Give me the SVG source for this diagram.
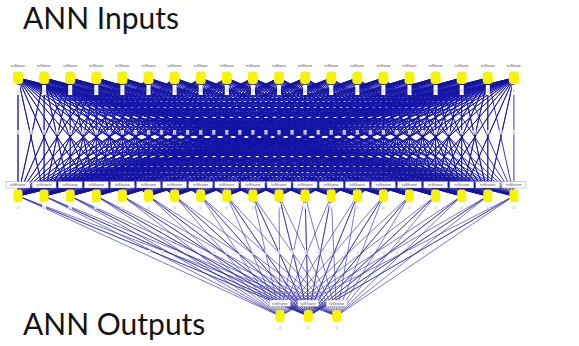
<svg xmlns="http://www.w3.org/2000/svg" xmlns:xlink="http://www.w3.org/1999/xlink" width="579" height="346" viewBox="0 0 579 346">
  <style>
    .ln { fill: none; stroke: #1414a6; stroke-width: 1; stroke-opacity: 0.85; stroke-linejoin: round; }
    .lo { fill: none; stroke: #2a2aa8; stroke-width: 0.9; stroke-opacity: 0.7; stroke-linejoin: round; }
    .nd { fill: #f8f400; }
    .st { fill: #ffffff; }
    .bx { fill: #ffffff; stroke: #8a8a8a; stroke-width: 0.4; }
    .lb { font-family: "Liberation Sans", Arial, sans-serif; font-size: 4.2px; fill: #555555; text-anchor: middle; }
    .d { font-family: "Liberation Sans", Arial, sans-serif; font-size: 4px; fill: #9a9a9a; text-anchor: middle; }
    .title { font-family: Lato, "Liberation Sans", sans-serif; font-size: 30px; fill: #141414; }
  </style>
  <defs>
    <!-- small weight tag placed on link midpoints -->
    <g id="tag">
      <rect x="-1.6" y="-3" width="3.2" height="4.6" fill="#ffffff" opacity="0.8"/>
      <text class="d" y="1">0</text>
    </g>
  </defs>

  <rect width="579" height="346" fill="#ffffff"/>

  <text class="title" x="23" y="28.5">ANN Inputs</text>
  <text class="title" x="23" y="335">ANN Outputs</text>

  <!-- links: every input to every hidden unit, every hidden unit to every output -->
  <g id="connectors">
    <g id="links-in-hidden">
      <path class="ln" d="M18 78L18 196 18 78 44.1 196 18 78 70.2 196 18 78 96.3 196 18 78 122.4 196 18 78 148.5 196 18 78 174.6 196 18 78 200.7 196 18 78 226.8 196 18 78 252.9 196 18 78 279 196 18 78 305.1 196 18 78 331.2 196 18 78 357.3 196 18 78 383.4 196 18 78 409.5 196 18 78 435.6 196 18 78 461.7 196 18 78 487.8 196 18 78 513.9 196"/>
      <path class="ln" d="M44.1 78L18 196 44.1 78 44.1 196 44.1 78 70.2 196 44.1 78 96.3 196 44.1 78 122.4 196 44.1 78 148.5 196 44.1 78 174.6 196 44.1 78 200.7 196 44.1 78 226.8 196 44.1 78 252.9 196 44.1 78 279 196 44.1 78 305.1 196 44.1 78 331.2 196 44.1 78 357.3 196 44.1 78 383.4 196 44.1 78 409.5 196 44.1 78 435.6 196 44.1 78 461.7 196 44.1 78 487.8 196 44.1 78 513.9 196"/>
      <path class="ln" d="M70.2 78L18 196 70.2 78 44.1 196 70.2 78 70.2 196 70.2 78 96.3 196 70.2 78 122.4 196 70.2 78 148.5 196 70.2 78 174.6 196 70.2 78 200.7 196 70.2 78 226.8 196 70.2 78 252.9 196 70.2 78 279 196 70.2 78 305.1 196 70.2 78 331.2 196 70.2 78 357.3 196 70.2 78 383.4 196 70.2 78 409.5 196 70.2 78 435.6 196 70.2 78 461.7 196 70.2 78 487.8 196 70.2 78 513.9 196"/>
      <path class="ln" d="M96.3 78L18 196 96.3 78 44.1 196 96.3 78 70.2 196 96.3 78 96.3 196 96.3 78 122.4 196 96.3 78 148.5 196 96.3 78 174.6 196 96.3 78 200.7 196 96.3 78 226.8 196 96.3 78 252.9 196 96.3 78 279 196 96.3 78 305.1 196 96.3 78 331.2 196 96.3 78 357.3 196 96.3 78 383.4 196 96.3 78 409.5 196 96.3 78 435.6 196 96.3 78 461.7 196 96.3 78 487.8 196 96.3 78 513.9 196"/>
      <path class="ln" d="M122.4 78L18 196 122.4 78 44.1 196 122.4 78 70.2 196 122.4 78 96.3 196 122.4 78 122.4 196 122.4 78 148.5 196 122.4 78 174.6 196 122.4 78 200.7 196 122.4 78 226.8 196 122.4 78 252.9 196 122.4 78 279 196 122.4 78 305.1 196 122.4 78 331.2 196 122.4 78 357.3 196 122.4 78 383.4 196 122.4 78 409.5 196 122.4 78 435.6 196 122.4 78 461.7 196 122.4 78 487.8 196 122.4 78 513.9 196"/>
      <path class="ln" d="M148.5 78L18 196 148.5 78 44.1 196 148.5 78 70.2 196 148.5 78 96.3 196 148.5 78 122.4 196 148.5 78 148.5 196 148.5 78 174.6 196 148.5 78 200.7 196 148.5 78 226.8 196 148.5 78 252.9 196 148.5 78 279 196 148.5 78 305.1 196 148.5 78 331.2 196 148.5 78 357.3 196 148.5 78 383.4 196 148.5 78 409.5 196 148.5 78 435.6 196 148.5 78 461.7 196 148.5 78 487.8 196 148.5 78 513.9 196"/>
      <path class="ln" d="M174.6 78L18 196 174.6 78 44.1 196 174.6 78 70.2 196 174.6 78 96.3 196 174.6 78 122.4 196 174.6 78 148.5 196 174.6 78 174.6 196 174.6 78 200.7 196 174.6 78 226.8 196 174.6 78 252.9 196 174.6 78 279 196 174.6 78 305.1 196 174.6 78 331.2 196 174.6 78 357.3 196 174.6 78 383.4 196 174.6 78 409.5 196 174.6 78 435.6 196 174.6 78 461.7 196 174.6 78 487.8 196 174.6 78 513.9 196"/>
      <path class="ln" d="M200.7 78L18 196 200.7 78 44.1 196 200.7 78 70.2 196 200.7 78 96.3 196 200.7 78 122.4 196 200.7 78 148.5 196 200.7 78 174.6 196 200.7 78 200.7 196 200.7 78 226.8 196 200.7 78 252.9 196 200.7 78 279 196 200.7 78 305.1 196 200.7 78 331.2 196 200.7 78 357.3 196 200.7 78 383.4 196 200.7 78 409.5 196 200.7 78 435.6 196 200.7 78 461.7 196 200.7 78 487.8 196 200.7 78 513.9 196"/>
      <path class="ln" d="M226.8 78L18 196 226.8 78 44.1 196 226.8 78 70.2 196 226.8 78 96.3 196 226.8 78 122.4 196 226.8 78 148.5 196 226.8 78 174.6 196 226.8 78 200.7 196 226.8 78 226.8 196 226.8 78 252.9 196 226.8 78 279 196 226.8 78 305.1 196 226.8 78 331.2 196 226.8 78 357.3 196 226.8 78 383.4 196 226.8 78 409.5 196 226.8 78 435.6 196 226.8 78 461.7 196 226.8 78 487.8 196 226.8 78 513.9 196"/>
      <path class="ln" d="M252.9 78L18 196 252.9 78 44.1 196 252.9 78 70.2 196 252.9 78 96.3 196 252.9 78 122.4 196 252.9 78 148.5 196 252.9 78 174.6 196 252.9 78 200.7 196 252.9 78 226.8 196 252.9 78 252.9 196 252.9 78 279 196 252.9 78 305.1 196 252.9 78 331.2 196 252.9 78 357.3 196 252.9 78 383.4 196 252.9 78 409.5 196 252.9 78 435.6 196 252.9 78 461.7 196 252.9 78 487.8 196 252.9 78 513.9 196"/>
      <path class="ln" d="M279 78L18 196 279 78 44.1 196 279 78 70.2 196 279 78 96.3 196 279 78 122.4 196 279 78 148.5 196 279 78 174.6 196 279 78 200.7 196 279 78 226.8 196 279 78 252.9 196 279 78 279 196 279 78 305.1 196 279 78 331.2 196 279 78 357.3 196 279 78 383.4 196 279 78 409.5 196 279 78 435.6 196 279 78 461.7 196 279 78 487.8 196 279 78 513.9 196"/>
      <path class="ln" d="M305.1 78L18 196 305.1 78 44.1 196 305.1 78 70.2 196 305.1 78 96.3 196 305.1 78 122.4 196 305.1 78 148.5 196 305.1 78 174.6 196 305.1 78 200.7 196 305.1 78 226.8 196 305.1 78 252.9 196 305.1 78 279 196 305.1 78 305.1 196 305.1 78 331.2 196 305.1 78 357.3 196 305.1 78 383.4 196 305.1 78 409.5 196 305.1 78 435.6 196 305.1 78 461.7 196 305.1 78 487.8 196 305.1 78 513.9 196"/>
      <path class="ln" d="M331.2 78L18 196 331.2 78 44.1 196 331.2 78 70.2 196 331.2 78 96.3 196 331.2 78 122.4 196 331.2 78 148.5 196 331.2 78 174.6 196 331.2 78 200.7 196 331.2 78 226.8 196 331.2 78 252.9 196 331.2 78 279 196 331.2 78 305.1 196 331.2 78 331.2 196 331.2 78 357.3 196 331.2 78 383.4 196 331.2 78 409.5 196 331.2 78 435.6 196 331.2 78 461.7 196 331.2 78 487.8 196 331.2 78 513.9 196"/>
      <path class="ln" d="M357.3 78L18 196 357.3 78 44.1 196 357.3 78 70.2 196 357.3 78 96.3 196 357.3 78 122.4 196 357.3 78 148.5 196 357.3 78 174.6 196 357.3 78 200.7 196 357.3 78 226.8 196 357.3 78 252.9 196 357.3 78 279 196 357.3 78 305.1 196 357.3 78 331.2 196 357.3 78 357.3 196 357.3 78 383.4 196 357.3 78 409.5 196 357.3 78 435.6 196 357.3 78 461.7 196 357.3 78 487.8 196 357.3 78 513.9 196"/>
      <path class="ln" d="M383.4 78L18 196 383.4 78 44.1 196 383.4 78 70.2 196 383.4 78 96.3 196 383.4 78 122.4 196 383.4 78 148.5 196 383.4 78 174.6 196 383.4 78 200.7 196 383.4 78 226.8 196 383.4 78 252.9 196 383.4 78 279 196 383.4 78 305.1 196 383.4 78 331.2 196 383.4 78 357.3 196 383.4 78 383.4 196 383.4 78 409.5 196 383.4 78 435.6 196 383.4 78 461.7 196 383.4 78 487.8 196 383.4 78 513.9 196"/>
      <path class="ln" d="M409.5 78L18 196 409.5 78 44.1 196 409.5 78 70.2 196 409.5 78 96.3 196 409.5 78 122.4 196 409.5 78 148.5 196 409.5 78 174.6 196 409.5 78 200.7 196 409.5 78 226.8 196 409.5 78 252.9 196 409.5 78 279 196 409.5 78 305.1 196 409.5 78 331.2 196 409.5 78 357.3 196 409.5 78 383.4 196 409.5 78 409.5 196 409.5 78 435.6 196 409.5 78 461.7 196 409.5 78 487.8 196 409.5 78 513.9 196"/>
      <path class="ln" d="M435.6 78L18 196 435.6 78 44.1 196 435.6 78 70.2 196 435.6 78 96.3 196 435.6 78 122.4 196 435.6 78 148.5 196 435.6 78 174.6 196 435.6 78 200.7 196 435.6 78 226.8 196 435.6 78 252.9 196 435.6 78 279 196 435.6 78 305.1 196 435.6 78 331.2 196 435.6 78 357.3 196 435.6 78 383.4 196 435.6 78 409.5 196 435.6 78 435.6 196 435.6 78 461.7 196 435.6 78 487.8 196 435.6 78 513.9 196"/>
      <path class="ln" d="M461.7 78L18 196 461.7 78 44.1 196 461.7 78 70.2 196 461.7 78 96.3 196 461.7 78 122.4 196 461.7 78 148.5 196 461.7 78 174.6 196 461.7 78 200.7 196 461.7 78 226.8 196 461.7 78 252.9 196 461.7 78 279 196 461.7 78 305.1 196 461.7 78 331.2 196 461.7 78 357.3 196 461.7 78 383.4 196 461.7 78 409.5 196 461.7 78 435.6 196 461.7 78 461.7 196 461.7 78 487.8 196 461.7 78 513.9 196"/>
      <path class="ln" d="M487.8 78L18 196 487.8 78 44.1 196 487.8 78 70.2 196 487.8 78 96.3 196 487.8 78 122.4 196 487.8 78 148.5 196 487.8 78 174.6 196 487.8 78 200.7 196 487.8 78 226.8 196 487.8 78 252.9 196 487.8 78 279 196 487.8 78 305.1 196 487.8 78 331.2 196 487.8 78 357.3 196 487.8 78 383.4 196 487.8 78 409.5 196 487.8 78 435.6 196 487.8 78 461.7 196 487.8 78 487.8 196 487.8 78 513.9 196"/>
      <path class="ln" d="M513.9 78L18 196 513.9 78 44.1 196 513.9 78 70.2 196 513.9 78 96.3 196 513.9 78 122.4 196 513.9 78 148.5 196 513.9 78 174.6 196 513.9 78 200.7 196 513.9 78 226.8 196 513.9 78 252.9 196 513.9 78 279 196 513.9 78 305.1 196 513.9 78 331.2 196 513.9 78 357.3 196 513.9 78 383.4 196 513.9 78 409.5 196 513.9 78 435.6 196 513.9 78 461.7 196 513.9 78 487.8 196 513.9 78 513.9 196"/>
    </g>
    <g id="links-hidden-out">
      <path class="lo" d="M280 316L18 196 308.3 316 18 196 336.7 316"/>
      <path class="lo" d="M280 316L44.1 196 308.3 316 44.1 196 336.7 316"/>
      <path class="lo" d="M280 316L70.2 196 308.3 316 70.2 196 336.7 316"/>
      <path class="lo" d="M280 316L96.3 196 308.3 316 96.3 196 336.7 316"/>
      <path class="lo" d="M280 316L122.4 196 308.3 316 122.4 196 336.7 316"/>
      <path class="lo" d="M280 316L148.5 196 308.3 316 148.5 196 336.7 316"/>
      <path class="lo" d="M280 316L174.6 196 308.3 316 174.6 196 336.7 316"/>
      <path class="lo" d="M280 316L200.7 196 308.3 316 200.7 196 336.7 316"/>
      <path class="lo" d="M280 316L226.8 196 308.3 316 226.8 196 336.7 316"/>
      <path class="lo" d="M280 316L252.9 196 308.3 316 252.9 196 336.7 316"/>
      <path class="lo" d="M280 316L279 196 308.3 316 279 196 336.7 316"/>
      <path class="lo" d="M280 316L305.1 196 308.3 316 305.1 196 336.7 316"/>
      <path class="lo" d="M280 316L331.2 196 308.3 316 331.2 196 336.7 316"/>
      <path class="lo" d="M280 316L357.3 196 308.3 316 357.3 196 336.7 316"/>
      <path class="lo" d="M280 316L383.4 196 308.3 316 383.4 196 336.7 316"/>
      <path class="lo" d="M280 316L409.5 196 308.3 316 409.5 196 336.7 316"/>
      <path class="lo" d="M280 316L435.6 196 308.3 316 435.6 196 336.7 316"/>
      <path class="lo" d="M280 316L461.7 196 308.3 316 461.7 196 336.7 316"/>
      <path class="lo" d="M280 316L487.8 196 308.3 316 487.8 196 336.7 316"/>
      <path class="lo" d="M280 316L513.9 196 308.3 316 513.9 196 336.7 316"/>
    </g>
    <!-- weight tags at link midpoints -->
    <g id="link-tags">
      <use xlink:href="#tag" x="18" y="133"/><use xlink:href="#tag" x="31.05" y="133"/><use xlink:href="#tag" x="44.1" y="133"/><use xlink:href="#tag" x="57.15" y="133"/>
      <use xlink:href="#tag" x="70.2" y="133"/><use xlink:href="#tag" x="83.25" y="133"/><use xlink:href="#tag" x="96.3" y="133"/><use xlink:href="#tag" x="109.35" y="133"/>
      <use xlink:href="#tag" x="122.4" y="133"/><use xlink:href="#tag" x="135.45" y="133"/><use xlink:href="#tag" x="148.5" y="133"/><use xlink:href="#tag" x="161.55" y="133"/>
      <use xlink:href="#tag" x="174.6" y="133"/><use xlink:href="#tag" x="187.65" y="133"/><use xlink:href="#tag" x="200.7" y="133"/><use xlink:href="#tag" x="213.75" y="133"/>
      <use xlink:href="#tag" x="226.8" y="133"/><use xlink:href="#tag" x="239.85" y="133"/><use xlink:href="#tag" x="252.9" y="133"/><use xlink:href="#tag" x="265.95" y="133"/>
      <use xlink:href="#tag" x="279" y="133"/><use xlink:href="#tag" x="292.05" y="133"/><use xlink:href="#tag" x="305.1" y="133"/><use xlink:href="#tag" x="318.15" y="133"/>
      <use xlink:href="#tag" x="331.2" y="133"/><use xlink:href="#tag" x="344.25" y="133"/><use xlink:href="#tag" x="357.3" y="133"/><use xlink:href="#tag" x="370.35" y="133"/>
      <use xlink:href="#tag" x="383.4" y="133"/><use xlink:href="#tag" x="396.45" y="133"/><use xlink:href="#tag" x="409.5" y="133"/><use xlink:href="#tag" x="422.55" y="133"/>
      <use xlink:href="#tag" x="435.6" y="133"/><use xlink:href="#tag" x="448.65" y="133"/><use xlink:href="#tag" x="461.7" y="133"/><use xlink:href="#tag" x="474.75" y="133"/>
      <use xlink:href="#tag" x="487.8" y="133"/><use xlink:href="#tag" x="500.85" y="133"/><use xlink:href="#tag" x="513.9" y="133"/>

      <use xlink:href="#tag" x="149" y="253"/><use xlink:href="#tag" x="162.05" y="253"/><use xlink:href="#tag" x="175.1" y="253"/><use xlink:href="#tag" x="188.15" y="253"/>
      <use xlink:href="#tag" x="201.2" y="253"/><use xlink:href="#tag" x="214.25" y="253"/><use xlink:href="#tag" x="227.3" y="253"/><use xlink:href="#tag" x="240.35" y="253"/>
      <use xlink:href="#tag" x="253.4" y="253"/><use xlink:href="#tag" x="266.45" y="253"/><use xlink:href="#tag" x="279.5" y="253"/><use xlink:href="#tag" x="292.55" y="253"/>
      <use xlink:href="#tag" x="305.6" y="253"/><use xlink:href="#tag" x="318.65" y="253"/><use xlink:href="#tag" x="331.7" y="253"/><use xlink:href="#tag" x="344.75" y="253"/>
      <use xlink:href="#tag" x="357.8" y="253"/><use xlink:href="#tag" x="370.85" y="253"/><use xlink:href="#tag" x="383.9" y="253"/><use xlink:href="#tag" x="396.95" y="253"/>
      <use xlink:href="#tag" x="410" y="253"/><use xlink:href="#tag" x="423.05" y="253"/>
    </g>
  </g>

  <!-- input layer -->
  <g id="inputs">
    <g id="in0" transform="translate(18)"><text class="lb" y="66.5">tvSlane</text><rect class="nd" x="-5" y="71.5" width="10" height="12.5" rx="3.5"/><rect class="st" x="-2" y="85" width="4" height="10"/><text class="d" y="92">0</text></g>
    <g id="in1" transform="translate(44.1)"><text class="lb" y="66.5">tvSlane</text><rect class="nd" x="-5" y="71.5" width="10" height="12.5" rx="3.5"/><rect class="st" x="-2" y="85" width="4" height="10"/><text class="d" y="92">0</text></g>
    <g id="in2" transform="translate(70.2)"><text class="lb" y="66.5">tvSlane</text><rect class="nd" x="-5" y="71.5" width="10" height="12.5" rx="3.5"/><rect class="st" x="-2" y="85" width="4" height="10"/><text class="d" y="92">0</text></g>
    <g id="in3" transform="translate(96.3)"><text class="lb" y="66.5">tvSlane</text><rect class="nd" x="-5" y="71.5" width="10" height="12.5" rx="3.5"/><rect class="st" x="-2" y="85" width="4" height="10"/><text class="d" y="92">0</text></g>
    <g id="in4" transform="translate(122.4)"><text class="lb" y="66.5">tvSlane</text><rect class="nd" x="-5" y="71.5" width="10" height="12.5" rx="3.5"/><rect class="st" x="-2" y="85" width="4" height="10"/><text class="d" y="92">0</text></g>
    <g id="in5" transform="translate(148.5)"><text class="lb" y="66.5">tvSlane</text><rect class="nd" x="-5" y="71.5" width="10" height="12.5" rx="3.5"/><rect class="st" x="-2" y="85" width="4" height="10"/><text class="d" y="92">0</text></g>
    <g id="in6" transform="translate(174.6)"><text class="lb" y="66.5">tvSlane</text><rect class="nd" x="-5" y="71.5" width="10" height="12.5" rx="3.5"/><rect class="st" x="-2" y="85" width="4" height="10"/><text class="d" y="92">0</text></g>
    <g id="in7" transform="translate(200.7)"><text class="lb" y="66.5">tvSlane</text><rect class="nd" x="-5" y="71.5" width="10" height="12.5" rx="3.5"/><rect class="st" x="-2" y="85" width="4" height="10"/><text class="d" y="92">0</text></g>
    <g id="in8" transform="translate(226.8)"><text class="lb" y="66.5">tvSlane</text><rect class="nd" x="-5" y="71.5" width="10" height="12.5" rx="3.5"/><rect class="st" x="-2" y="85" width="4" height="10"/><text class="d" y="92">0</text></g>
    <g id="in9" transform="translate(252.9)"><text class="lb" y="66.5">tvSlane</text><rect class="nd" x="-5" y="71.5" width="10" height="12.5" rx="3.5"/><rect class="st" x="-2" y="85" width="4" height="10"/><text class="d" y="92">0</text></g>
    <g id="in10" transform="translate(279)"><text class="lb" y="66.5">tvSlane</text><rect class="nd" x="-5" y="71.5" width="10" height="12.5" rx="3.5"/><rect class="st" x="-2" y="85" width="4" height="10"/><text class="d" y="92">0</text></g>
    <g id="in11" transform="translate(305.1)"><text class="lb" y="66.5">tvSlane</text><rect class="nd" x="-5" y="71.5" width="10" height="12.5" rx="3.5"/><rect class="st" x="-2" y="85" width="4" height="10"/><text class="d" y="92">0</text></g>
    <g id="in12" transform="translate(331.2)"><text class="lb" y="66.5">tvSlane</text><rect class="nd" x="-5" y="71.5" width="10" height="12.5" rx="3.5"/><rect class="st" x="-2" y="85" width="4" height="10"/><text class="d" y="92">0</text></g>
    <g id="in13" transform="translate(357.3)"><text class="lb" y="66.5">tvSlane</text><rect class="nd" x="-5" y="71.5" width="10" height="12.5" rx="3.5"/><rect class="st" x="-2" y="85" width="4" height="10"/><text class="d" y="92">0</text></g>
    <g id="in14" transform="translate(383.4)"><text class="lb" y="66.5">tvSlane</text><rect class="nd" x="-5" y="71.5" width="10" height="12.5" rx="3.5"/><rect class="st" x="-2" y="85" width="4" height="10"/><text class="d" y="92">0</text></g>
    <g id="in15" transform="translate(409.5)"><text class="lb" y="66.5">tvSlane</text><rect class="nd" x="-5" y="71.5" width="10" height="12.5" rx="3.5"/><rect class="st" x="-2" y="85" width="4" height="10"/><text class="d" y="92">0</text></g>
    <g id="in16" transform="translate(435.6)"><text class="lb" y="66.5">tvSlane</text><rect class="nd" x="-5" y="71.5" width="10" height="12.5" rx="3.5"/><rect class="st" x="-2" y="85" width="4" height="10"/><text class="d" y="92">0</text></g>
    <g id="in17" transform="translate(461.7)"><text class="lb" y="66.5">tvSlane</text><rect class="nd" x="-5" y="71.5" width="10" height="12.5" rx="3.5"/><rect class="st" x="-2" y="85" width="4" height="10"/><text class="d" y="92">0</text></g>
    <g id="in18" transform="translate(487.8)"><text class="lb" y="66.5">tvSlane</text><rect class="nd" x="-5" y="71.5" width="10" height="12.5" rx="3.5"/><rect class="st" x="-2" y="85" width="4" height="10"/><text class="d" y="92">0</text></g>
    <g id="in19" transform="translate(513.9)"><text class="lb" y="66.5">tvSlane</text><rect class="nd" x="-5" y="71.5" width="10" height="12.5" rx="3.5"/><rect class="st" x="-2" y="85" width="4" height="10"/><text class="d" y="92">0</text></g>
  </g>

  <!-- hidden layer -->
  <g id="hidden">
    <g id="h0" transform="translate(18)"><rect class="bx" x="-12" y="181.5" width="24" height="6.5"/><text class="lb" y="186.4">tvShane</text><rect class="nd" x="-4.5" y="189.5" width="9" height="12.5" rx="3"/><rect class="st" x="-1.8" y="203" width="3.6" height="6"/><text class="d" y="208.5">0</text></g>
    <g id="h1" transform="translate(44.1)"><rect class="bx" x="-12" y="181.5" width="24" height="6.5"/><text class="lb" y="186.4">tvShane</text><rect class="nd" x="-4.5" y="189.5" width="9" height="12.5" rx="3"/><rect class="st" x="-1.8" y="203" width="3.6" height="6"/><text class="d" y="208.5">0</text></g>
    <g id="h2" transform="translate(70.2)"><rect class="bx" x="-12" y="181.5" width="24" height="6.5"/><text class="lb" y="186.4">tvShane</text><rect class="nd" x="-4.5" y="189.5" width="9" height="12.5" rx="3"/><rect class="st" x="-1.8" y="203" width="3.6" height="6"/><text class="d" y="208.5">0</text></g>
    <g id="h3" transform="translate(96.3)"><rect class="bx" x="-12" y="181.5" width="24" height="6.5"/><text class="lb" y="186.4">tvShane</text><rect class="nd" x="-4.5" y="189.5" width="9" height="12.5" rx="3"/><rect class="st" x="-1.8" y="203" width="3.6" height="6"/><text class="d" y="208.5">0</text></g>
    <g id="h4" transform="translate(122.4)"><rect class="bx" x="-12" y="181.5" width="24" height="6.5"/><text class="lb" y="186.4">tvShane</text><rect class="nd" x="-4.5" y="189.5" width="9" height="12.5" rx="3"/><rect class="st" x="-1.8" y="203" width="3.6" height="6"/><text class="d" y="208.5">0</text></g>
    <g id="h5" transform="translate(148.5)"><rect class="bx" x="-12" y="181.5" width="24" height="6.5"/><text class="lb" y="186.4">tvShane</text><rect class="nd" x="-4.5" y="189.5" width="9" height="12.5" rx="3"/><rect class="st" x="-1.8" y="203" width="3.6" height="6"/><text class="d" y="208.5">0</text></g>
    <g id="h6" transform="translate(174.6)"><rect class="bx" x="-12" y="181.5" width="24" height="6.5"/><text class="lb" y="186.4">tvShane</text><rect class="nd" x="-4.5" y="189.5" width="9" height="12.5" rx="3"/><rect class="st" x="-1.8" y="203" width="3.6" height="6"/><text class="d" y="208.5">0</text></g>
    <g id="h7" transform="translate(200.7)"><rect class="bx" x="-12" y="181.5" width="24" height="6.5"/><text class="lb" y="186.4">tvShane</text><rect class="nd" x="-4.5" y="189.5" width="9" height="12.5" rx="3"/><rect class="st" x="-1.8" y="203" width="3.6" height="6"/><text class="d" y="208.5">0</text></g>
    <g id="h8" transform="translate(226.8)"><rect class="bx" x="-12" y="181.5" width="24" height="6.5"/><text class="lb" y="186.4">tvShane</text><rect class="nd" x="-4.5" y="189.5" width="9" height="12.5" rx="3"/><rect class="st" x="-1.8" y="203" width="3.6" height="6"/><text class="d" y="208.5">0</text></g>
    <g id="h9" transform="translate(252.9)"><rect class="bx" x="-12" y="181.5" width="24" height="6.5"/><text class="lb" y="186.4">tvShane</text><rect class="nd" x="-4.5" y="189.5" width="9" height="12.5" rx="3"/><rect class="st" x="-1.8" y="203" width="3.6" height="6"/><text class="d" y="208.5">0</text></g>
    <g id="h10" transform="translate(279)"><rect class="bx" x="-12" y="181.5" width="24" height="6.5"/><text class="lb" y="186.4">tvShane</text><rect class="nd" x="-4.5" y="189.5" width="9" height="12.5" rx="3"/><rect class="st" x="-1.8" y="203" width="3.6" height="6"/><text class="d" y="208.5">0</text></g>
    <g id="h11" transform="translate(305.1)"><rect class="bx" x="-12" y="181.5" width="24" height="6.5"/><text class="lb" y="186.4">tvShane</text><rect class="nd" x="-4.5" y="189.5" width="9" height="12.5" rx="3"/><rect class="st" x="-1.8" y="203" width="3.6" height="6"/><text class="d" y="208.5">0</text></g>
    <g id="h12" transform="translate(331.2)"><rect class="bx" x="-12" y="181.5" width="24" height="6.5"/><text class="lb" y="186.4">tvShane</text><rect class="nd" x="-4.5" y="189.5" width="9" height="12.5" rx="3"/><rect class="st" x="-1.8" y="203" width="3.6" height="6"/><text class="d" y="208.5">0</text></g>
    <g id="h13" transform="translate(357.3)"><rect class="bx" x="-12" y="181.5" width="24" height="6.5"/><text class="lb" y="186.4">tvShane</text><rect class="nd" x="-4.5" y="189.5" width="9" height="12.5" rx="3"/><rect class="st" x="-1.8" y="203" width="3.6" height="6"/><text class="d" y="208.5">0</text></g>
    <g id="h14" transform="translate(383.4)"><rect class="bx" x="-12" y="181.5" width="24" height="6.5"/><text class="lb" y="186.4">tvShane</text><rect class="nd" x="-4.5" y="189.5" width="9" height="12.5" rx="3"/><rect class="st" x="-1.8" y="203" width="3.6" height="6"/><text class="d" y="208.5">0</text></g>
    <g id="h15" transform="translate(409.5)"><rect class="bx" x="-12" y="181.5" width="24" height="6.5"/><text class="lb" y="186.4">tvShane</text><rect class="nd" x="-4.5" y="189.5" width="9" height="12.5" rx="3"/><rect class="st" x="-1.8" y="203" width="3.6" height="6"/><text class="d" y="208.5">0</text></g>
    <g id="h16" transform="translate(435.6)"><rect class="bx" x="-12" y="181.5" width="24" height="6.5"/><text class="lb" y="186.4">tvShane</text><rect class="nd" x="-4.5" y="189.5" width="9" height="12.5" rx="3"/><rect class="st" x="-1.8" y="203" width="3.6" height="6"/><text class="d" y="208.5">0</text></g>
    <g id="h17" transform="translate(461.7)"><rect class="bx" x="-12" y="181.5" width="24" height="6.5"/><text class="lb" y="186.4">tvShane</text><rect class="nd" x="-4.5" y="189.5" width="9" height="12.5" rx="3"/><rect class="st" x="-1.8" y="203" width="3.6" height="6"/><text class="d" y="208.5">0</text></g>
    <g id="h18" transform="translate(487.8)"><rect class="bx" x="-12" y="181.5" width="24" height="6.5"/><text class="lb" y="186.4">tvShane</text><rect class="nd" x="-4.5" y="189.5" width="9" height="12.5" rx="3"/><rect class="st" x="-1.8" y="203" width="3.6" height="6"/><text class="d" y="208.5">0</text></g>
    <g id="h19" transform="translate(513.9)"><rect class="bx" x="-12" y="181.5" width="24" height="6.5"/><text class="lb" y="186.4">tvShane</text><rect class="nd" x="-4.5" y="189.5" width="9" height="12.5" rx="3"/><rect class="st" x="-1.8" y="203" width="3.6" height="6"/><text class="d" y="208.5">0</text></g>
  </g>

  <!-- output layer -->
  <g id="outputs">
    <g id="out0" transform="translate(280)"><rect class="bx" x="-10.5" y="300" width="21" height="6.5"/><text class="lb" y="304.9">tvShane</text><rect class="nd" x="-4.5" y="310" width="9" height="12" rx="3"/><rect class="st" x="-1.8" y="323" width="3.6" height="6"/><text class="d" y="328.5">0</text></g>
    <g id="out1" transform="translate(308.3)"><rect class="bx" x="-10.5" y="300" width="21" height="6.5"/><text class="lb" y="304.9">tvShane</text><rect class="nd" x="-4.5" y="310" width="9" height="12" rx="3"/><rect class="st" x="-1.8" y="323" width="3.6" height="6"/><text class="d" y="328.5">0</text></g>
    <g id="out2" transform="translate(336.7)"><rect class="bx" x="-10.5" y="300" width="21" height="6.5"/><text class="lb" y="304.9">tvShane</text><rect class="nd" x="-4.5" y="310" width="9" height="12" rx="3"/><rect class="st" x="-1.8" y="323" width="3.6" height="6"/><text class="d" y="328.5">0</text></g>
  </g>
</svg>
